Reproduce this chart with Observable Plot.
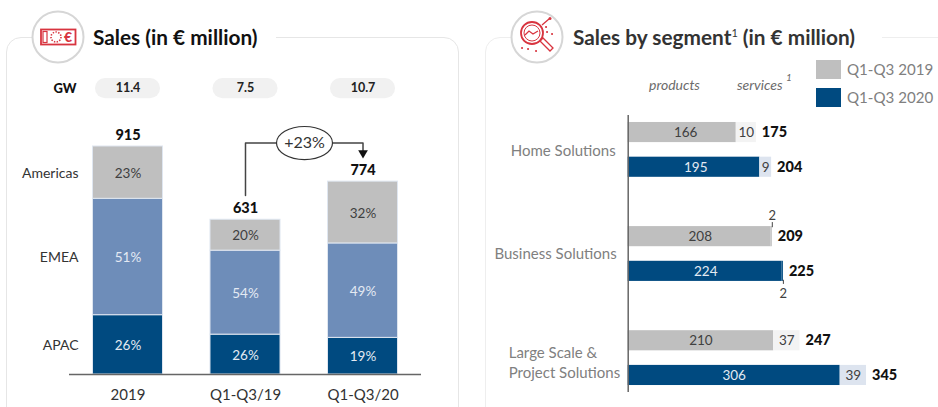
<!DOCTYPE html>
<html>
<head>
<meta charset="utf-8">
<script src="https://cdn.jsdelivr.net/npm/d3@7"></script>
<script src="https://cdn.jsdelivr.net/npm/@observablehq/plot@0.6"></script>
<style>
  html,body{margin:0;padding:0;background:#fff;}
  #page{position:relative;width:938px;height:407px;overflow:hidden;font-family:Lato,sans-serif;background:#fff;}
  #page>*{position:absolute;}
  .panel{top:37px;height:420px;border:1.5px solid #e6e6e6;border-radius:15px;box-sizing:border-box;}
  .patch{top:33px;height:9px;background:#fff;}
  .title{top:23px;font-size:20.8px;font-weight:700;line-height:28px;white-space:nowrap;}
  .title sup{font-size:11px;font-weight:400;line-height:0;}
  .head{top:76px;font-size:14px;font-style:italic;color:#6b6b6b;line-height:18px;}
  .swatch{width:25px;height:19px;}
  .legend{left:847px;font-size:15.1px;color:#808080;line-height:19px;white-space:nowrap;}
  .plot{top:0;}
  .plot svg{display:block;overflow:visible;}
</style>
</head>
<body>
<div id="page">
  <div class="panel" style="left:6px;width:453px"></div>
  <div class="panel" style="left:485px;width:470px;border-color:#eeeeee"></div>
  <div class="patch" style="left:33px;width:243px"></div>
  <div class="patch" style="left:511px;width:371px"></div>

  <svg style="left:30px;top:9px" width="56" height="56" viewBox="0 0 56 56">
    <circle cx="28" cy="28" r="25.5" fill="#fff" stroke="#d6d6d6" stroke-width="2"/>
    <rect x="11" y="20.5" width="34.5" height="15" fill="none" stroke="#d8343f" stroke-width="1.8"/>
    <rect x="13" y="22.5" width="4" height="11" fill="#fff" stroke="#d8343f" stroke-width="1.2"/>
    <circle cx="26" cy="28" r="5" fill="none" stroke="#d8343f" stroke-width="1.6" stroke-dasharray="1.4 1.4"/>
    <text x="38" y="33" text-anchor="middle" font-family="Lato" font-weight="900" font-size="14" fill="#d8343f">€</text>
  </svg>
  <svg style="left:509px;top:9px" width="56" height="56" viewBox="0 0 56 56">
    <circle cx="28" cy="28" r="25.5" fill="#fff" stroke="#d6d6d6" stroke-width="2"/>
    <circle cx="23" cy="24" r="11" fill="none" stroke="#d8343f" stroke-width="1.8"/>
    <circle cx="23" cy="24" r="8" fill="none" stroke="#d8343f" stroke-width="1"/>
    <path d="M16 26l4-4 4 3 5-3M31 32l10 10 3-3-10-10zM33 16l7-6" fill="none" stroke="#d8343f" stroke-width="1.3"/>
    <circle cx="41" cy="9.5" r="1.5" fill="#d8343f"/>
    <path d="M13 39h.1M19 40h.1M27 42h.1M38 23h.1M43 25h.1M37 18h.1" stroke="#d8343f" stroke-width="2" stroke-linecap="round"/>
  </svg>

  <div class="title" style="left:93px;color:#111">Sales (in € million)</div>
  <div class="title" style="left:573px;color:#333">Sales by segment<sup>1</sup> (in € million)</div>

  <div class="head" style="left:649px">products</div>
  <div class="head" style="left:737px">services</div>
  <div class="head" style="left:786px;top:68px;font-size:10px">1</div>

  <div class="swatch" style="left:816px;top:60px;background:#bfbfbf"></div>
  <div class="legend" style="top:60px">Q1-Q3 2019</div>
  <div class="swatch" style="left:816px;top:88px;background:#004a80"></div>
  <div class="legend" style="top:88px">Q1-Q3 2020</div>

  <div class="plot" id="left" style="left:0"></div>
  <div class="plot" id="right" style="left:470px"></div>
</div>
<script>
// ---------- Sales (left panel) ----------
const periods = ["2019", "Q1-Q3/19", "Q1-Q3/20"];
const regions = ["APAC", "EMEA", "Americas"];
// Segment heights
const apacSales = [238, 160, 147];
const emeaSales = [467, 337, 379];
const americasSales = [210, 124, 248];
const apacShare = ["26%", "26%", "19%"];
const emeaShare = ["51%", "54%", "49%"];
const americasShare = ["23%", "20%", "32%"];
const periodTotals = [915, 631, 774];
const gwValues = ["11.4", "7.5", "10.7"];
const growthLabel = "+23%";

// ---------- Sales by segment (right panel) ----------
const segments = ["Home Solutions", "Business Solutions", "Large Scale &\nProject Solutions"];
const years = ["Q1-Q3 2019", "Q1-Q3 2020"];
// Printed labels, one pair per segment
const productLabels = [166, 195, 208, 224, 210, 306];
const serviceLabels = [10, 9, 2, 2, 37, 39];
const totalLabels = [175, 204, 209, 225, 247, 345];
// Bar lengths (the source does not draw every bar to its label)
const productLengths = [156, 190, 206, 222, 210, 306];
const serviceLengths = [29, 17, 2, 2, 38, 38];

const GREY = "#bfbfbf", MID = "#6e8db9", NAVY = "#004a80", LIGHTGREY = "#f3f3f3", LIGHTBLUE = "#dde4ef";
const regionFill = {APAC: NAVY, EMEA: MID, Americas: GREY};
const font = "Lato, sans-serif";

// long tables built from the arrays above
const stack = periods.flatMap((period, i) => [
  {period, region: "APAC", value: apacSales[i], share: apacShare[i]},
  {period, region: "EMEA", value: emeaSales[i], share: emeaShare[i]},
  {period, region: "Americas", value: americasSales[i], share: americasShare[i]}
]);
const totals = periods.map((period, i) => ({
  period, total: periodTotals[i], gw: gwValues[i],
  top: apacSales[i] + emeaSales[i] + americasSales[i]
}));

const leftPlot = Plot.plot({
  width: 470, height: 407,
  marginTop: 0, marginLeft: 69, marginRight: 49, marginBottom: 33,
  style: {fontFamily: font, background: "transparent", overflow: "visible"},
  x: {domain: periods, range: [45, 445], padding: 0.404, round: false, axis: null},
  y: {domain: [0, 915], range: [374, 146], axis: null},
  color: {type: "identity"},
  marks: [
    Plot.barY(totals, {x: "period", y1: 1107, y2: 1188, fill: "#f1f1f1", rx: 10, insetLeft: 2.5, insetRight: 2.5}),
    Plot.text(totals, {x: "period", y: 1148, text: "gw", fontSize: 12.5, fontWeight: 700, fill: "#222"}),
    Plot.text(["GW"], {x: () => periods[0], y: 1148, text: d => d, dx: -51.5, textAnchor: "end", fontSize: 13, fontWeight: 900, fill: "#111"}),

    Plot.barY(stack, {x: "period", y: "value", z: "region", fill: d => regionFill[d.region], stroke: "#dfe6f0", strokeWidth: 1}),
    Plot.text(stack, Plot.stackY({x: "period", y: "value", z: "region", text: "share", dy: 0.7, fontSize: 13.5,
      fill: d => d.region === "Americas" ? "#404040" : "#e4eaf3"})),
    Plot.text(stack.filter(d => d.period === periods[0]), Plot.stackY({x: "period", y: "value", z: "region", text: "region",
      dx: -49.5, dy: 0.7, textAnchor: "end", fontSize: 14, fill: "#333"})),
    Plot.text(totals, {x: "period", y: "top", text: "total", dy: -11, fontSize: 14.5, fontWeight: 900, fill: "#111"}),

    // growth annotation between Q1-Q3/19 and Q1-Q3/20
    Plot.line([[periods[1], 718], [periods[1], 929], [periods[2], 929], [periods[2], 885]], {x: d => d[0], y: d => d[1], stroke: "#444", strokeWidth: 1.5, curve: "linear"}),
    Plot.dot([periods[2]], {x: d => d, y: 889, symbol: "triangle", r: 3.6, rotate: 180, fill: "#111", stroke: "none"}),
    Plot.dot([periods[1]], {x: d => d, y: 929, dx: 59, r: 28, stroke: "#333", strokeWidth: 1.2, fill: "#fff",
      symbol: {draw(ctx, size) {
        const rx = Math.sqrt(size / Math.PI), ry = rx * 0.59, k = 0.5523;
        ctx.moveTo(-rx, 0);
        ctx.bezierCurveTo(-rx, -ry * k, -rx * k, -ry, 0, -ry);
        ctx.bezierCurveTo(rx * k, -ry, rx, -ry * k, rx, 0);
        ctx.bezierCurveTo(rx, ry * k, rx * k, ry, 0, ry);
        ctx.bezierCurveTo(-rx * k, ry, -rx, ry * k, -rx, 0);
        ctx.closePath();
      }}}),
    Plot.text([growthLabel], {x: () => periods[1], y: 929, dx: 59, text: d => d, fontSize: 16, fill: "#333"}),

    Plot.ruleY([0], {stroke: "#666", strokeWidth: 1.5}),
    Plot.axisX({anchor: "bottom", tickSize: 0, tickPadding: 14.5, fontSize: 15, fill: "#333", label: null})
  ]
});
document.getElementById("left").append(leftPlot);

// row slots: two bars per segment, with an empty slot between segments
const rowKey = i => `${Math.floor(i / 2)}|${i % 2}`;
const rowDomain = ["0|0", "0|1", "gap1", "1|0", "1|1", "gap2", "2|0", "2|1"];
const rows = productLabels.map((label, i) => ({
  row: rowKey(i), year: i % 2,
  productLabel: label, serviceLabel: serviceLabels[i], total: totalLabels[i],
  productLength: productLengths[i], serviceLength: serviceLengths[i],
  end: productLengths[i] + serviceLengths[i]
}));
const pieces = rows.flatMap(r => [
  {row: r.row, part: "products", value: r.productLength, fill: r.year ? NAVY : GREY},
  {row: r.row, part: "services", value: r.serviceLength,
    fill: r.serviceLength <= 2 ? (r.year ? NAVY : GREY) : (r.year ? LIGHTBLUE : LIGHTGREY)}
]);

const rightPlot = Plot.plot({
  width: 468, height: 407,
  marginTop: 115, marginLeft: 157.7, marginRight: 40, marginBottom: 15,
  style: {fontFamily: font, background: "transparent", overflow: "visible"},
  x: {domain: [0, 306], range: [157.7, 369.7], axis: null},
  y: {domain: rowDomain, range: [107.4, 399.6], padding: 0.42, round: false, axis: null},
  color: {type: "identity"},
  marks: [
    Plot.barX(pieces, {x: "value", y: "row", z: "part", fill: "fill"}),
    Plot.ruleX([0], {stroke: "#666", strokeWidth: 1.5}),
    Plot.text(rows, {x: d => d.productLabel / 2, y: "row", text: "productLabel", fontSize: 13.5,
      fill: d => d.year ? "#e4eaf3" : "#404040"}),
    Plot.text(rows.filter(d => d.serviceLength > 2), {x: d => d.productLength + d.serviceLength / 2, y: "row", text: "serviceLabel", fontSize: 13.5, fill: "#404040"}),
    Plot.text(rows, {x: "end", y: "row", text: "total", dx: 5.5, textAnchor: "start", fontSize: 14.5, fontWeight: 900, fill: "#111"}),

    // the two thin service parts are labelled with a small tick
    Plot.tickX(rows.filter(d => d.row === "1|0"), {x: "end", y: "row", insetTop: -4, insetBottom: 19, stroke: "#444", strokeWidth: 1}),
    Plot.tickX(rows.filter(d => d.row === "1|1"), {x: "end", y: "row", insetTop: 19, insetBottom: -3, stroke: "#444", strokeWidth: 1}),
    Plot.text(rows.filter(d => d.row === "1|0"), {x: "end", y: "row", text: "serviceLabel", dy: -21, fontSize: 13, fill: "#404040"}),
    Plot.text(rows.filter(d => d.row === "1|1"), {x: "end", y: "row", text: "serviceLabel", dy: 22, fontSize: 13, fill: "#404040"}),

    // segment names
    Plot.text([segments[0]], {x: () => 0, y: () => "0|0", dy: 19, dx: -12.5, text: d => d, textAnchor: "end", fontSize: 15, fill: "#808080"}),
    Plot.text([segments[1]], {x: () => 0, y: () => "1|0", dy: 17.5, dx: -11.5, text: d => d, textAnchor: "end", fontSize: 15, fill: "#808080"}),
    Plot.text([segments[2]], {x: () => 0, y: () => "2|0", dy: 20.5, dx: -119.5, text: d => d, textAnchor: "start", lineHeight: 1.33, fontSize: 15, fill: "#808080"})
  ]
});
document.getElementById("right").append(rightPlot);
</script>
</body>
</html>
